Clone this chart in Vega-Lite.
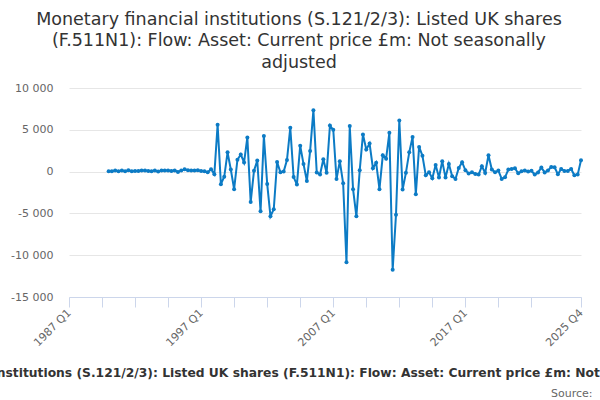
{
  "$schema": "https://vega.github.io/schema/vega-lite/v6.json",
  "width": 512,
  "height": 209,
  "autosize": {"type": "none"},
  "padding": {"left": 69, "top": 88, "right": 19, "bottom": 103},
  "background": "white",
  "title": {
    "text": ["Monetary financial institutions (S.121/2/3): Listed UK shares", "(F.511N1): Flow: Asset: Current price £m: Not seasonally", "adjusted"],
    "anchor": "middle",
    "frame": "group",
    "dx": -26,
    "offset": 11,
    "font": "DejaVu Sans",
    "fontSize": 17.5,
    "fontWeight": "normal",
    "lineHeight": 21.5,
    "color": "#333333"
  },
  "data": {
    "values": [
      {"date": "1990-01-01", "value": 40}, {"date": "1990-04-01", "value": 40}, {"date": "1990-07-01", "value": 120}, {"date": "1990-10-01", "value": 40},
      {"date": "1991-01-01", "value": 120}, {"date": "1991-04-01", "value": 40}, {"date": "1991-07-01", "value": 160}, {"date": "1991-10-01", "value": 40},
      {"date": "1992-01-01", "value": 80}, {"date": "1992-04-01", "value": 80}, {"date": "1992-07-01", "value": 120}, {"date": "1992-10-01", "value": 120},
      {"date": "1993-01-01", "value": 80}, {"date": "1993-04-01", "value": 40}, {"date": "1993-07-01", "value": 120}, {"date": "1993-10-01", "value": 0},
      {"date": "1994-01-01", "value": 120}, {"date": "1994-04-01", "value": 120}, {"date": "1994-07-01", "value": 120}, {"date": "1994-10-01", "value": 80},
      {"date": "1995-01-01", "value": 120}, {"date": "1995-04-01", "value": -40}, {"date": "1995-07-01", "value": 120}, {"date": "1995-10-01", "value": 280},
      {"date": "1996-01-01", "value": 160}, {"date": "1996-04-01", "value": 120}, {"date": "1996-07-01", "value": 120}, {"date": "1996-10-01", "value": 160},
      {"date": "1997-01-01", "value": 80}, {"date": "1997-04-01", "value": 40}, {"date": "1997-07-01", "value": -80}, {"date": "1997-10-01", "value": 280},
      {"date": "1998-01-01", "value": -320}, {"date": "1998-04-01", "value": 5600}, {"date": "1998-07-01", "value": -1500}, {"date": "1998-10-01", "value": -620},
      {"date": "1999-01-01", "value": 2300}, {"date": "1999-04-01", "value": 250}, {"date": "1999-07-01", "value": -2100}, {"date": "1999-10-01", "value": 1420},
      {"date": "2000-01-01", "value": 2050}, {"date": "2000-04-01", "value": 1100}, {"date": "2000-07-01", "value": 4080}, {"date": "2000-10-01", "value": -3650},
      {"date": "2001-01-01", "value": 110}, {"date": "2001-04-01", "value": 1330}, {"date": "2001-07-01", "value": -4750}, {"date": "2001-10-01", "value": 4250},
      {"date": "2002-01-01", "value": -1490}, {"date": "2002-04-01", "value": -5350}, {"date": "2002-07-01", "value": -4500}, {"date": "2002-10-01", "value": 1150},
      {"date": "2003-01-01", "value": -90}, {"date": "2003-04-01", "value": 0}, {"date": "2003-07-01", "value": 1380}, {"date": "2003-10-01", "value": 5250},
      {"date": "2004-01-01", "value": -650}, {"date": "2004-04-01", "value": -1550}, {"date": "2004-07-01", "value": 3100}, {"date": "2004-10-01", "value": 900},
      {"date": "2005-01-01", "value": -1130}, {"date": "2005-04-01", "value": 2460}, {"date": "2005-07-01", "value": 7350}, {"date": "2005-10-01", "value": -100},
      {"date": "2006-01-01", "value": -350}, {"date": "2006-04-01", "value": 1480}, {"date": "2006-07-01", "value": -150}, {"date": "2006-10-01", "value": 5500},
      {"date": "2007-01-01", "value": 5000}, {"date": "2007-04-01", "value": -900}, {"date": "2007-07-01", "value": 1250}, {"date": "2007-10-01", "value": -1400},
      {"date": "2008-01-01", "value": -10850}, {"date": "2008-04-01", "value": 5450}, {"date": "2008-07-01", "value": -2100}, {"date": "2008-10-01", "value": -5350},
      {"date": "2009-01-01", "value": 150}, {"date": "2009-04-01", "value": 4450}, {"date": "2009-07-01", "value": 2650}, {"date": "2009-10-01", "value": 3350},
      {"date": "2010-01-01", "value": 400}, {"date": "2010-04-01", "value": 1050}, {"date": "2010-07-01", "value": -2100}, {"date": "2010-10-01", "value": 1950},
      {"date": "2011-01-01", "value": 1550}, {"date": "2011-04-01", "value": 4650}, {"date": "2011-07-01", "value": -11750}, {"date": "2011-10-01", "value": -5150},
      {"date": "2012-01-01", "value": 6100}, {"date": "2012-04-01", "value": -2150}, {"date": "2012-07-01", "value": -150}, {"date": "2012-10-01", "value": 2300},
      {"date": "2013-01-01", "value": 4150}, {"date": "2013-04-01", "value": -2700}, {"date": "2013-07-01", "value": 2950}, {"date": "2013-10-01", "value": 1900},
      {"date": "2014-01-01", "value": -450}, {"date": "2014-04-01", "value": -80}, {"date": "2014-07-01", "value": -800}, {"date": "2014-10-01", "value": 800},
      {"date": "2015-01-01", "value": -700}, {"date": "2015-04-01", "value": 1250}, {"date": "2015-07-01", "value": -720}, {"date": "2015-10-01", "value": 900},
      {"date": "2016-01-01", "value": -560}, {"date": "2016-04-01", "value": -880}, {"date": "2016-07-01", "value": 440}, {"date": "2016-10-01", "value": 1120},
      {"date": "2017-01-01", "value": 160}, {"date": "2017-04-01", "value": -240}, {"date": "2017-07-01", "value": -80}, {"date": "2017-10-01", "value": -280},
      {"date": "2018-01-01", "value": -360}, {"date": "2018-04-01", "value": 640}, {"date": "2018-07-01", "value": -160}, {"date": "2018-10-01", "value": 1960},
      {"date": "2019-01-01", "value": 240}, {"date": "2019-04-01", "value": -80}, {"date": "2019-07-01", "value": 120}, {"date": "2019-10-01", "value": -880},
      {"date": "2020-01-01", "value": -680}, {"date": "2020-04-01", "value": 240}, {"date": "2020-07-01", "value": 320}, {"date": "2020-10-01", "value": 400},
      {"date": "2021-01-01", "value": -200}, {"date": "2021-04-01", "value": 40}, {"date": "2021-07-01", "value": 120}, {"date": "2021-10-01", "value": 0},
      {"date": "2022-01-01", "value": 100}, {"date": "2022-04-01", "value": -360}, {"date": "2022-07-01", "value": -100}, {"date": "2022-10-01", "value": 480},
      {"date": "2023-01-01", "value": -100}, {"date": "2023-04-01", "value": 120}, {"date": "2023-07-01", "value": 560}, {"date": "2023-10-01", "value": 520},
      {"date": "2024-01-01", "value": -320}, {"date": "2024-04-01", "value": 320}, {"date": "2024-07-01", "value": 80}, {"date": "2024-10-01", "value": 80},
      {"date": "2025-01-01", "value": 320}, {"date": "2025-04-01", "value": -440}, {"date": "2025-07-01", "value": -360}, {"date": "2025-10-01", "value": 1360}
    ]
  },
  "mark": {
    "type": "line",
    "color": "#0c7bc5",
    "strokeWidth": 2,
    "point": {"filled": true, "size": 16, "color": "#0c7bc5"}
  },
  "encoding": {
    "x": {
      "field": "date",
      "type": "temporal",
      "scale": {
        "type": "utc",
        "nice": false,
        "domain": [
          {"year": 1987, "month": 1, "date": 1, "utc": true},
          {"year": 2025, "month": 10, "date": 1, "utc": true}
        ]
      },
      "axis": {
        "values": [
          {"year": 1987, "month": 1, "date": 1, "utc": true},
          {"year": 1989, "month": 7, "date": 1, "utc": true},
          {"year": 1992, "month": 1, "date": 1, "utc": true},
          {"year": 1994, "month": 7, "date": 1, "utc": true},
          {"year": 1997, "month": 1, "date": 1, "utc": true},
          {"year": 1999, "month": 7, "date": 1, "utc": true},
          {"year": 2002, "month": 1, "date": 1, "utc": true},
          {"year": 2004, "month": 7, "date": 1, "utc": true},
          {"year": 2007, "month": 1, "date": 1, "utc": true},
          {"year": 2009, "month": 7, "date": 1, "utc": true},
          {"year": 2012, "month": 1, "date": 1, "utc": true},
          {"year": 2014, "month": 7, "date": 1, "utc": true},
          {"year": 2017, "month": 1, "date": 1, "utc": true},
          {"year": 2019, "month": 7, "date": 1, "utc": true},
          {"year": 2022, "month": 1, "date": 1, "utc": true},
          {"year": 2025, "month": 10, "date": 1, "utc": true}
        ],
        "labelExpr": "(utcmonth(datum.value) == 0 && utcyear(datum.value) % 10 == 7) || utcyear(datum.value) == 2025 ? utcyear(datum.value) + ' Q' + utcquarter(datum.value) : ''",
        "labelAngle": -45,
        "labelAlign": "right",
        "labelBaseline": "middle",
        "labelOverlap": false,
        "labelFont": "DejaVu Sans",
        "labelFontSize": 11,
        "labelColor": "#666666",
        "labelPadding": 4,
        "grid": false,
        "domainColor": "#ccd6eb",
        "tickColor": "#ccd6eb",
        "tickSize": 10,
        "title": "Monetary financial institutions (S.121/2/3): Listed UK shares (F.511N1): Flow: Asset: Current price £m: Not seasonally adjusted",
        "titleFont": "DejaVu Sans",
        "titleFontSize": 12.3,
        "titleFontWeight": "bold",
        "titleColor": "#333333",
        "titleX": 231,
        "titleY": 79,
        "titleAlign": "center",
        "titleBaseline": "alphabetic",
        "titleAnchor": null
      }
    },
    "y": {
      "field": "value",
      "type": "quantitative",
      "scale": {"domain": [-15000, 10000], "nice": false, "zero": false},
      "axis": {
        "values": [-15000, -10000, -5000, 0, 5000, 10000],
        "labelExpr": "replace(replace(format(datum.value, ','), /,/g, ' '), /\u2212/g, '-')",
        "domain": false,
        "ticks": false,
        "labelPadding": 16,
        "labelFont": "DejaVu Sans",
        "labelFontSize": 11,
        "labelColor": "#666666",
        "gridColor": "#e6e6e6",
        "gridWidth": 1,
        "title": "Source:",
        "titleAngle": 0,
        "titleFont": "DejaVu Sans",
        "titleFontSize": 11,
        "titleFontWeight": "normal",
        "titleColor": "#666666",
        "titleX": 523,
        "titleY": 308,
        "titleAlign": "right",
        "titleBaseline": "alphabetic"
      }
    }
  },
  "config": {
    "view": {"stroke": null}
  }
}
